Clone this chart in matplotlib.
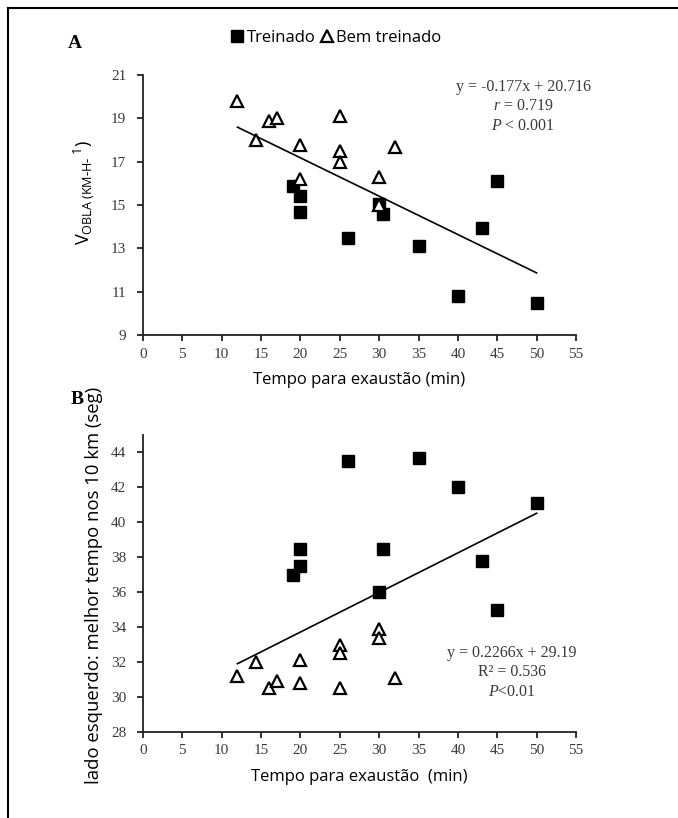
import matplotlib
matplotlib.use('Agg')
import matplotlib.pyplot as plt
from matplotlib.lines import Line2D

# ---- data ----
x_treinado = [19, 20, 20, 26, 30, 30.5, 35, 40, 43, 45, 50]
vobla_treinado = [15.9, 15.4, 14.7, 13.5, 15.05, 14.6, 13.1, 10.8, 13.95, 16.1, 10.5]
t10k_treinado = [37.0, 38.5, 37.5, 43.5, 36.0, 38.5, 43.7, 42.0, 37.8, 35.0, 41.1]

x_bem = [12, 14.4, 16, 17, 20, 20, 25, 25, 25, 30, 30, 32]
vobla_bem = [19.8, 18.0, 18.9, 19.0, 17.75, 16.2, 19.1, 17.5, 17.0, 16.3, 15.0, 17.7]
t10k_bem = [31.2, 32.0, 30.5, 30.9, 32.1, 30.8, 33.0, 32.5, 30.5, 33.9, 33.4, 31.1]

fit_a = (-0.177, 20.716)
fit_b = (0.2266, 29.19)

xticks = list(range(0, 56, 5))
yticks_a = list(range(9, 22, 2))
yticks_b = list(range(28, 45, 2))

legend_labels = ['Treinado', 'Bem treinado']
eq_a = ['y = -0.177x + 20.716', r'$\mathit{r}$ = 0.719', r'$\mathit{P}$ < 0.001']
eq_b = ['y = 0.2266x + 29.19', 'R² = 0.536', r'$\mathit{P}$<0.01']

# ---- style ----
W, H = 678, 818
SERIF = 'Liberation Serif'
SANS = 'Open Sans'
GREY = '#3a3a3a'
plt.rcParams['mathtext.fontset'] = 'custom'
plt.rcParams['mathtext.rm'] = SERIF
plt.rcParams['mathtext.it'] = SERIF + ':italic'

fig = plt.figure(figsize=(W / 100, H / 100), dpi=100)

def px_axes(l, r, t, b):
    return fig.add_axes([l / W, 1 - b / H, (r - l) / W, (b - t) / H])

axA = px_axes(143, 576, 75, 335)
axB = px_axes(143, 576, 435, 732)

xall = x_treinado + x_bem
x0, x1 = min(xall), max(xall)

def draw(ax, yt, yb, fit, ylim, yticks):
    ax.plot(x_treinado, yt, ls='', marker='s', ms=9.3, color='black', zorder=3)
    ax.plot(x_bem, yb, ls='', marker='^', ms=9.3, mfc='white', mec='black', mew=1.6, zorder=3)
    m, b = fit
    ax.plot([x0, x1], [m * x0 + b, m * x1 + b], color='black', lw=1.2, zorder=2)
    ax.set_xlim(0, 55)
    ax.set_ylim(*ylim)
    ax.set_xticks(xticks)
    ax.set_yticks(yticks)
    for s in ['top', 'right']:
        ax.spines[s].set_visible(False)
    for s in ['left', 'bottom']:
        ax.spines[s].set_linewidth(1.3)
        ax.spines[s].set_color('#222222')
    ax.tick_params(direction='out', length=4, width=1.3, color='#222222',
                   labelsize=11, labelcolor=GREY)
    ax.tick_params(axis='y', pad=8)
    ax.tick_params(axis='x', pad=5)
    for lab in ax.get_xticklabels() + ax.get_yticklabels():
        lab.set_fontfamily(SERIF)

draw(axA, vobla_treinado, vobla_bem, fit_a, (9, 21), yticks_a)
draw(axB, t10k_treinado, t10k_bem, fit_b, (28, 45), yticks_b)

axA.set_xlabel('Tempo para exaustão (min)', fontfamily=SANS, fontsize=12, labelpad=8)
axB.set_xlabel('Tempo para exaustão  (min)', fontfamily=SANS, fontsize=12, labelpad=8)

fig.text(84 / W, 1 - 193 / H,
         r'$\mathregular{V_{OBLA\ (KM\text{-}H\text{-}\ }{}^{1})}$',
         rotation=90, ha='center', va='center', fontfamily=SANS, fontsize=13)
fig.text(94 / W, 1 - 585 / H, 'lado esquerdo: melhor tempo nos 10 km (seg)',
         rotation=90, ha='center', va='center', fontfamily=SANS, fontsize=13.3)

fig.text(75 / W, 1 - 44 / H, 'A', fontfamily=SERIF, fontweight='bold', fontsize=14,
         ha='center', va='center')
fig.text(77 / W, 1 - 400 / H, 'B', fontfamily=SERIF, fontweight='bold', fontsize=14,
         ha='center', va='center')

for i, s in enumerate(eq_a):
    fig.text(523 / W, 1 - (87 + 19.5 * i) / H, s, fontfamily=SERIF, fontsize=11.5,
             color=GREY, ha='center', va='center')
for i, s in enumerate(eq_b):
    fig.text(512 / W, 1 - (653 + 19.5 * i) / H, s, fontfamily=SERIF, fontsize=11.5,
             color=GREY, ha='center', va='center')

handles = [Line2D([], [], ls='', marker='s', ms=8, color='black'),
           Line2D([], [], ls='', marker='^', ms=8, mfc='white', mec='black', mew=1.6)]
fig.legend(handles, legend_labels, loc='center', bbox_to_anchor=(336 / W, 1 - 38 / H),
           ncol=2, frameon=False, handletextpad=0.15, columnspacing=0.3,
           handlelength=0.8, prop={'family': SANS, 'size': 12})

# frame (left and top edges visible)
fig.add_artist(Line2D([8 / W, 8 / W], [0, 1 - 8 / H], transform=fig.transFigure,
                      color='black', lw=1.5))
fig.add_artist(Line2D([8 / W, 1], [1 - 8 / H, 1 - 8 / H], transform=fig.transFigure,
                      color='black', lw=1.5))

fig.savefig('out.png', dpi=100)
